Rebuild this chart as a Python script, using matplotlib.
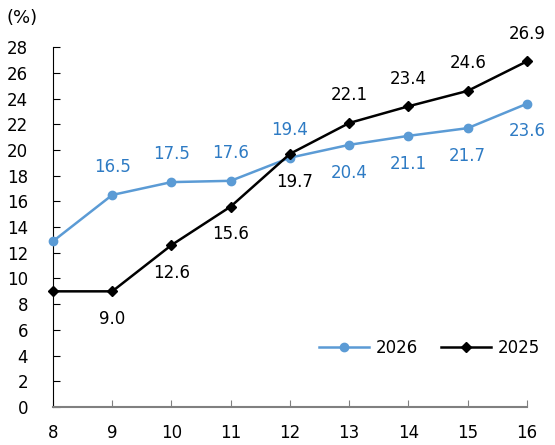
import matplotlib.pyplot as plt

months = [8, 9, 10, 11, 12, 13, 14, 15, 16]
y2026 = [12.9, 16.5, 17.5, 17.6, 19.4, 20.4, 21.1, 21.7, 23.6]
y2025 = [9.0, 9.0, 12.6, 15.6, 19.7, 22.1, 23.4, 24.6, 26.9]
# label placement: +1 above, -1 below, 0 none
pos2026 = [0, 1, 1, 1, 1, -1, -1, -1, -1]
pos2025 = [0, -1, -1, -1, -1, 1, 1, 1, 1]

blue = '#5B9BD5'
blue_txt = '#2E7BC4'

fig = plt.figure(figsize=(5.55, 4.45), dpi=100)
ax = fig.add_axes([0.0955, 0.0854, 0.854, 0.8086])

ax.plot(months, y2026, color=blue, lw=1.8, marker='o', ms=6, label='2026', clip_on=False, zorder=3)
ax.plot(months, y2025, color='black', lw=1.8, marker='D', ms=5, label='2025', clip_on=False, zorder=4)

for x, v, p in zip(months, y2026, pos2026):
    if p:
        ax.annotate(f'{v:.1f}', (x, v), xytext=(0, 20 * p), textcoords='offset points',
                    ha='center', va='center', fontsize=12, color=blue_txt)
for x, v, p in zip(months, y2025, pos2025):
    if p:
        dx = 3 if x == 12 else 0
        ax.annotate(f'{v:.1f}', (x, v), xytext=(dx, 20 * p), textcoords='offset points',
                    ha='center', va='center', fontsize=12, color='black')

ax.set_xlim(8, 16)
ax.set_ylim(0, 28)
ax.set_xticks(months)
ax.set_yticks(range(0, 29, 2))
ax.tick_params(axis='both', direction='in', labelsize=12, length=5)
ax.tick_params(axis='x', pad=12, color='#808080')
ax.tick_params(axis='y', pad=18)
for s in ['top', 'right']:
    ax.spines[s].set_visible(False)
ax.spines['bottom'].set_color('#808080')
ax.spines['bottom'].set_linewidth(1.5)
ax.spines['left'].set_color('black')

fig.text(0.012, 0.96, '(%)', fontsize=13, va='center', ha='left')

ax.legend(loc='center right', bbox_to_anchor=(1.06, 0.164), frameon=False, ncol=2,
          fontsize=12, handlelength=3.0, columnspacing=1.4, handletextpad=0.4)

fig.savefig('out.png', dpi=100)
